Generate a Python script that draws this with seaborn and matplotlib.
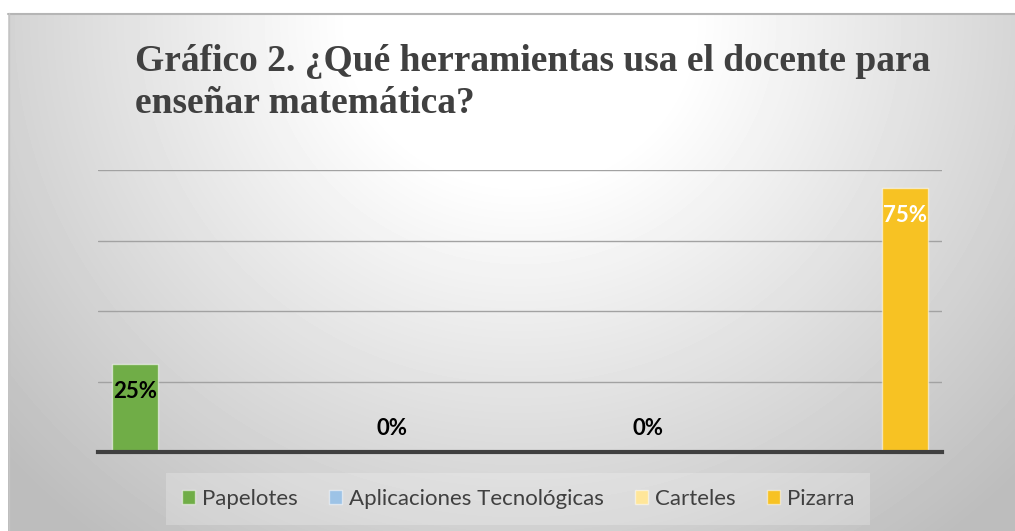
import numpy as np
import matplotlib
matplotlib.use("Agg")
import matplotlib.pyplot as plt
from matplotlib.patches import Patch
import seaborn as sns
import pandas as pd

categories = ["Papelotes", "Aplicaciones Tecnológicas", "Carteles", "Pizarra"]
values = [0.25, 0.0, 0.0, 0.75]
labels = ["25%", "0%", "0%", "75%"]
colors = ["#70ad47", "#9dc3e6", "#ffe699", "#f7c223"]
label_colors = ["black", "black", "black", "white"]
title = "Gráfico 2. ¿Qué herramientas usa el docente para\nenseñar matemática?"

sns.set_theme(style="white")
plt.rcParams["font.family"] = ["Lato", "DejaVu Sans"]

W, H = 1015, 531
fig = plt.figure(figsize=(W / 100, H / 100), dpi=100)
fig.patch.set_facecolor("white")

# radial grey background of the chart area
x0, y0 = 8, 13
bg = fig.add_axes([x0 / W, 0, 1 - x0 / W, 1 - y0 / H], zorder=0)
yy, xx = np.mgrid[y0:H, x0:W].astype(float)
d = np.sqrt((xx - 520) ** 2 + ((yy - 20) * 1.05) ** 2)
v = np.maximum(0.74, 1 - 0.0005 * np.maximum(d - 170, 0))
bg.imshow(v, cmap="gray", vmin=0, vmax=1, aspect="auto", interpolation="bilinear")
bg.set_axis_off()
fig.add_artist(plt.Line2D([x0 / W, 1], [1 - 13.5 / H] * 2, color="#b5b5b5", lw=1.5, zorder=1))
fig.add_artist(plt.Line2D([(x0 + 0.5) / W] * 2, [0, 1 - y0 / H], color="#c4c4c4", lw=1, zorder=1))

ax = fig.add_axes([98 / W, 1 - 452 / H, (942 - 98) / W, (452 - 170) / H], zorder=2)
ax.set_facecolor("none")

df = pd.DataFrame({"cat": categories, "val": values})
sns.barplot(data=df, x="cat", y="val", hue="cat", palette=colors, width=0.18,
            saturation=1, legend=False, ax=ax, edgecolor=(1, 1, 1, 0.55),
            linewidth=1, zorder=3)

ax.set_ylim(0, 0.8)
ax.set_xlim(-0.144, 3.144)
ax.set_yticks([0.2, 0.4, 0.6, 0.8])
ax.yaxis.grid(True, color="#a2a2a2", lw=1)
ax.set_axisbelow(True)
for s in ["top", "right", "left"]:
    ax.spines[s].set_visible(False)
ax.spines["bottom"].set_color("#404040")
ax.spines["bottom"].set_linewidth(3)
ax.spines["bottom"].set_zorder(4)
ax.set_xticks([])
ax.set_yticklabels([])
ax.tick_params(left=False, bottom=False)
ax.set_xlabel("")
ax.set_ylabel("")

for i, (val, lab, lc) in enumerate(zip(values, labels, label_colors)):
    off = -20 if val > 0 else 17
    ax.annotate(lab, (i, val), xytext=(0, off), textcoords="offset points",
                ha="center", va="center", fontsize=16, fontweight="bold",
                color=lc, zorder=5)

fig.text(135 / W, 1 - 44 / H, title, ha="left", va="top",
         family=["Liberation Serif", "DejaVu Serif"], fontweight="bold",
         fontsize=27, color="#404040", linespacing=1.25, zorder=3)

handles = [Patch(facecolor=c, edgecolor=(1, 1, 1, 0.5), label=n) for c, n in zip(colors, categories)]
leg = fig.legend(handles=handles, loc="center", bbox_to_anchor=(518 / W, 1 - 499 / H),
                 ncol=4, frameon=True, fontsize=16, handlelength=0.6, handleheight=0.6,
                 handletextpad=0.3, columnspacing=1.4, borderpad=0.7, borderaxespad=0,
                 fancybox=False, facecolor="white", framealpha=0.22, edgecolor="none")
leg.set_zorder(5)
for txt in leg.get_texts():
    txt.set_color("#404040")

fig.savefig("out.png", dpi=100)
